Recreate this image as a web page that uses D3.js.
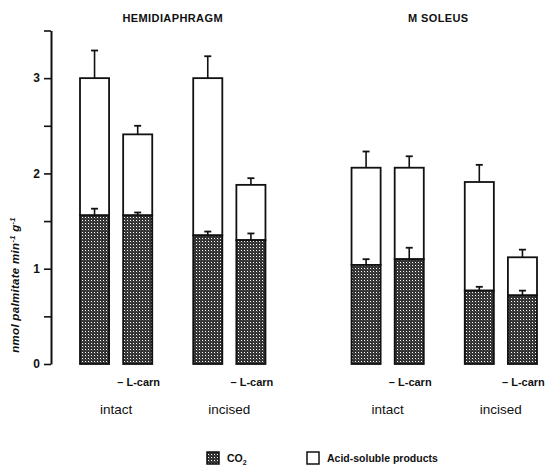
<!DOCTYPE html>
<html>
<head>
<meta charset="utf-8">
<script src="https://cdn.jsdelivr.net/npm/d3@7"></script>
<style>
  html, body { margin: 0; padding: 0; background: #fff; }
  svg { display: block; }
  text { font-family: "Liberation Sans", Arial, sans-serif; fill: #111; }
</style>
</head>
<body>
<svg id="chart" width="548" height="466"></svg>
<script>
// Palmitate oxidation: CO2 and acid-soluble products, stacked per bar
const panels = ["HEMIDIAPHRAGM", "M SOLEUS"];
const groups = ["intact", "incised"];
const treatments = ["control", "-L-carn"];

// bar order: panel → group → treatment
const co2Values     = [1.56, 1.56, 1.35, 1.30, 1.04, 1.10, 0.77, 0.72];
const co2Errors     = [0.07, 0.03, 0.04, 0.07, 0.06, 0.12, 0.04, 0.05];
const totalValues   = [3.00, 2.41, 3.00, 1.88, 2.06, 2.06, 1.91, 1.12];
const totalErrors   = [0.29, 0.09, 0.23, 0.07, 0.17, 0.12, 0.18, 0.08];

const yTicks = [0, 0.5, 1, 1.5, 2, 2.5, 3, 3.5];
const yLabels = [0, 1, 2, 3];

const svg = d3.select("#chart");

// stipple fill for the CO2 part
const defs = svg.append("defs");
const pat = defs.append("pattern")
  .attr("id", "stipple").attr("patternUnits", "userSpaceOnUse")
  .attr("width", 3).attr("height", 3);
pat.append("rect").attr("width", 3).attr("height", 3).attr("fill", "#333");
pat.append("rect").attr("x", 1).attr("y", 1).attr("width", 1).attr("height", 1).attr("fill", "#fff");
pat.append("rect").attr("x", 2.5).attr("y", 2.5).attr("width", 0.5).attr("height", 0.5).attr("fill", "#aaa");

const y = d3.scaleLinear().domain([0, 3.5]).range([364, 30.5]);

const xPanel = d3.scaleBand().domain(panels).range([80, 537]).paddingInner(0.317);
const xGroup = d3.scaleBand().domain(groups).range([0, xPanel.bandwidth()]).paddingInner(0.362);
const xBar = d3.scaleBand().domain(treatments).range([0, xGroup.bandwidth()]).paddingInner(0.326);

const bars = [];
panels.forEach(p => groups.forEach(g => treatments.forEach(t => {
  const i = bars.length;
  bars.push({
    panel: p, group: g, treatment: t,
    x: xPanel(p) + xGroup(g) + xBar(t),
    co2: co2Values[i], co2Err: co2Errors[i],
    total: totalValues[i], totalErr: totalErrors[i]
  });
})));
const bw = xBar.bandwidth();

// y axis
const axis = d3.axisLeft(y)
  .tickValues(yTicks)
  .tickSize(7)
  .tickSizeOuter(0)
  .tickPadding(4)
  .tickFormat(d => yLabels.includes(d) ? d : "");
const gAxis = svg.append("g").attr("transform", "translate(51,0)").call(axis);
gAxis.select(".domain").attr("stroke", "#111").attr("stroke-width", 2);
gAxis.selectAll(".tick line").attr("stroke", "#111").attr("stroke-width", 1.6);
gAxis.selectAll(".tick text")
  .style("font-family", "'Liberation Sans', Arial, sans-serif")
  .style("font-size", "12px").style("font-weight", "bold").attr("fill", "#111");

// y axis title
svg.append("text")
  .attr("transform", "translate(19,285) rotate(-90)")
  .attr("text-anchor", "middle")
  .style("font-size", "11.5px").style("font-style", "italic").style("font-weight", "bold")
  .style("letter-spacing", "0.3px")
  .html('nmol palmitate min<tspan dy="-4" font-size="7.5px">-1</tspan><tspan dy="4"> g</tspan><tspan dy="-4" font-size="7.5px">-1</tspan>');

// bars
const gBars = svg.append("g");
bars.forEach(b => {
  // acid-soluble part (white, stacked on CO2)
  gBars.append("rect")
    .attr("x", b.x).attr("width", bw)
    .attr("y", y(b.total)).attr("height", y(b.co2) - y(b.total))
    .attr("fill", "#fff").attr("stroke", "#111").attr("stroke-width", 1.8);
  // CO2 part
  gBars.append("rect")
    .attr("x", b.x).attr("width", bw)
    .attr("y", y(b.co2)).attr("height", y(0) - y(b.co2))
    .attr("fill", "url(#stipple)").attr("stroke", "#111").attr("stroke-width", 1.8);

  // error bars
  [[b.co2, b.co2Err], [b.total, b.totalErr]].forEach(([v, e]) => {
    const cx = b.x + bw / 2;
    gBars.append("line")
      .attr("x1", cx).attr("x2", cx).attr("y1", y(v)).attr("y2", y(v + e))
      .attr("stroke", "#111").attr("stroke-width", 1.6);
    gBars.append("line")
      .attr("x1", cx - 3.5).attr("x2", cx + 3.5).attr("y1", y(v + e)).attr("y2", y(v + e))
      .attr("stroke", "#111").attr("stroke-width", 1.8);
  });
});

// panel titles
panels.forEach(p => {
  svg.append("text")
    .attr("x", xPanel(p) + xPanel.bandwidth() / 2 - (p === "M SOLEUS" ? 6 : 0))
    .attr("y", 22)
    .attr("text-anchor", "middle")
    .style("font-size", "11px").style("font-weight", "bold").style("letter-spacing", "0.4px")
    .text(p);
});

// treatment labels under the second bar of each group
bars.filter(b => b.treatment === "-L-carn").forEach(b => {
  svg.append("text")
    .attr("x", b.x + bw / 2 + 1).attr("y", 386)
    .attr("text-anchor", "middle")
    .style("font-size", "11px").style("font-weight", "bold")
    .text("\u2013 L-carn");
});

// group labels
panels.forEach(p => groups.forEach(g => {
  svg.append("text")
    .attr("x", xPanel(p) + xGroup(g) + xGroup.bandwidth() / 2)
    .attr("y", 414)
    .attr("text-anchor", "middle")
    .style("font-size", "13.5px")
    .text(g);
}));

// legend
const legend = [
  { label: "CO", sub: "2", fill: "url(#stipple)", x: 207 },
  { label: "Acid-soluble products", sub: "", fill: "#fff", x: 307 }
];
legend.forEach(l => {
  svg.append("rect")
    .attr("x", l.x).attr("y", 452).attr("width", 12).attr("height", 12)
    .attr("fill", l.fill).attr("stroke", "#111").attr("stroke-width", 1.5);
  const t = svg.append("text")
    .attr("x", l.x + 20).attr("y", 462)
    .style("font-size", "10.5px").style("font-weight", "bold")
    .text(l.label);
  if (l.sub) t.append("tspan").attr("dy", 3).style("font-size", "7px").text(l.sub);
});
</script>
</body>
</html>
